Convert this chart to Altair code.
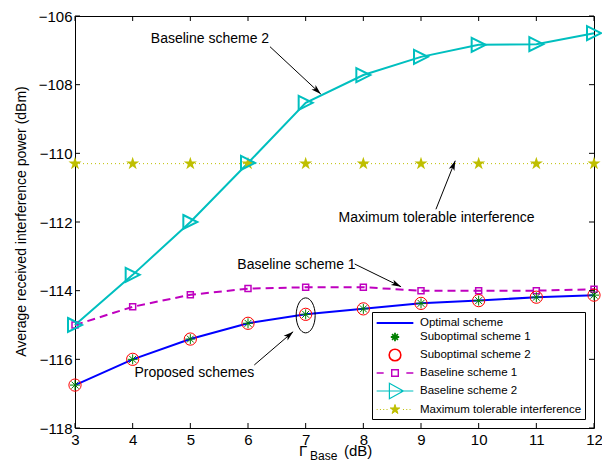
import math
import altair as alt
import pandas as pd

# ---------------- data ----------------
gamma_db = [3, 4, 5, 6, 7, 8, 9, 10, 11, 12]
optimal = [-116.75, -116.00, -115.41, -114.95, -114.69, -114.53, -114.37, -114.29, -114.19, -114.13]
suboptimal1 = [-116.75, -116.00, -115.41, -114.95, -114.69, -114.53, -114.37, -114.29, -114.19, -114.13]
suboptimal2 = [-116.75, -116.00, -115.41, -114.95, -114.69, -114.53, -114.37, -114.29, -114.19, -114.13]
baseline1 = [-115.00, -114.47, -114.12, -113.94, -113.90, -113.90, -114.00, -114.00, -114.00, -113.96]
baseline2 = [-115.00, -113.54, -112.00, -110.28, -108.53, -107.72, -107.19, -106.84, -106.82, -106.50]
max_tolerable = [-110.3, -110.3, -110.3, -110.3, -110.3, -110.3, -110.3, -110.3, -110.3, -110.3]

series_names = ["Optimal scheme", "Suboptimal scheme 1", "Suboptimal scheme 2",
                "Baseline scheme 1", "Baseline scheme 2", "Maximum tolerable interference"]
series_values = [optimal, suboptimal1, suboptimal2, baseline1, baseline2, max_tolerable]
series_colors = ["#0000FF", "#008000", "#FF0000", "#BF00BF", "#00BFBF", "#BFBF00"]

x_ticks = [3, 4, 5, 6, 7, 8, 9, 10, 11, 12]
y_ticks = [-118, -116, -114, -112, -110, -108, -106]

# annotations: text label centres and arrows (start -> tip), in data units
ann_text = ["Baseline scheme 2", "Maximum tolerable interference", "Baseline scheme 1", "Proposed schemes"]
ann_text_x = [5.34, 9.27, 6.84, 5.07]
ann_text_y = [-106.67, -111.89, -113.25, -116.41]
arrow_x0 = [6.381, 9.259, 7.849, 6.109]
arrow_y0 = [-106.894, -111.630, -113.223, -116.165]
arrow_x1 = [7.262, 9.594, 8.654, 6.783]
arrow_y1 = [-108.272, -110.215, -113.885, -115.195]
ellipse_x = [7]
ellipse_y = [-114.72]

# ---------------- layout ----------------
W, H = 519, 412
FONT = "Liberation Sans, Arial, Helvetica, sans-serif"

rows = []
for name, vals in zip(series_names, series_values):
    for g, v in zip(gamma_db, vals):
        rows.append({"series": name, "x": g, "y": v})
df = pd.DataFrame(rows)

xs = alt.Scale(domain=[3, 12], nice=False, zero=False)
ys = alt.Scale(domain=[-118, -106], nice=False, zero=False)
x_axis = alt.Axis(values=x_ticks, title=None, ticks=False, domain=False, grid=False,
                  labelPadding=4, labelFontSize=15, labelFlush=False, labelOverlap=False,
                  labelFont=FONT, labelColor="black")
y_axis = alt.Axis(values=y_ticks, title="Average received interference power (dBm)",
                  ticks=False, domain=False, grid=False, labelPadding=3, labelFontSize=15,
                  labelFlush=False, labelOverlap=False, labelFont=FONT, labelColor="black",
                  titleFont=FONT, titleFontSize=14, titleFontWeight="normal", titleColor="black",
                  titleX=-54, titleY=205, titleBaseline="middle")


def X(f="x"):
    return alt.X(f"{f}:Q", scale=xs, axis=x_axis)


def Y(f="y"):
    return alt.Y(f"{f}:Q", scale=ys, axis=y_axis)


def only(name):
    return alt.Chart(df).transform_filter(alt.datum.series == name)


# custom marker shapes
TRI_RIGHT = "M-1,-1L1,0L-1,1Z"
ASTERISK = "M-1,0H1M0,-1V1M-0.7,-0.7L0.7,0.7M-0.7,0.7L0.7,-0.7"
STAR = ("M0,-1L0.223,-0.307L0.951,-0.309L0.361,0.117L0.588,0.809L0,0.38"
        "L-0.588,0.809L-0.361,0.117L-0.951,-0.309L-0.223,-0.307Z")
ARROW_HEAD = "M0,0L0.55,1.8L0,1.35L-0.55,1.8Z"
ELLIPSE = "M0.543,0A0.543,1 0 1,1 -0.543,0A0.543,1 0 1,1 0.543,0Z"

# lines
line_opt = only("Optimal scheme").mark_line(color="#0000FF", strokeWidth=2).encode(x=X(), y=Y())
line_b1 = only("Baseline scheme 1").mark_line(color="#BF00BF", strokeWidth=2, strokeDash=[8, 5]).encode(x=X(), y=Y())
line_b2 = only("Baseline scheme 2").mark_line(color="#00BFBF", strokeWidth=2).encode(x=X(), y=Y())
line_mt = only("Maximum tolerable interference").mark_line(color="#BFBF00", strokeWidth=1, strokeDash=[1, 3]).encode(x=X(), y=Y())

# markers
pt_sub1 = only("Suboptimal scheme 1").mark_point(shape=ASTERISK, size=100, color="#008000", strokeWidth=1, opacity=1).encode(x=X(), y=Y())
pt_sub2 = only("Suboptimal scheme 2").mark_point(shape="circle", size=150, color="#FF0000", strokeWidth=1, opacity=1).encode(x=X(), y=Y())
pt_b1 = only("Baseline scheme 1").mark_point(shape="square", size=36, color="#BF00BF", strokeWidth=1.5, opacity=1).encode(x=X(), y=Y())
pt_b2 = only("Baseline scheme 2").mark_point(shape=TRI_RIGHT, size=196, color="#00BFBF", strokeWidth=2, opacity=1).encode(x=X(), y=Y())
pt_mt = only("Maximum tolerable interference").mark_point(shape=STAR, size=190, filled=True, color="#BFBF00", opacity=1).encode(x=X(), y=Y())

# annotations
ppx = W / 9.0
ppy = H / 12.0
angles = []
for a, b, c, d in zip(arrow_x0, arrow_y0, arrow_x1, arrow_y1):
    dx = (c - a) * ppx
    dy = -(d - b) * ppy
    angles.append(math.degrees(math.atan2(dx, -dy)) % 360)
arrows = pd.DataFrame({"x0": arrow_x0, "y0": arrow_y0, "x1": arrow_x1, "y1": arrow_y1, "ang": angles})
texts = pd.DataFrame({"x": ann_text_x, "y": ann_text_y, "t": ann_text})

arrow_lines = alt.Chart(arrows).mark_rule(color="black", strokeWidth=1).encode(
    x=X("x0"), y=Y("y0"), x2="x1:Q", y2="y1:Q")
arrow_heads = alt.Chart(arrows).mark_point(shape=ARROW_HEAD, size=121, filled=True, color="black", opacity=1).encode(
    x=X("x1"), y=Y("y1"), angle=alt.Angle("ang:Q", scale=None))
ann_labels = alt.Chart(texts).mark_text(font=FONT, fontSize=14, color="black", align="center", baseline="middle").encode(
    x=X(), y=Y(), text="t:N")
ellipse = alt.Chart(pd.DataFrame({"x": ellipse_x, "y": ellipse_y})).mark_point(
    shape=ELLIPSE, size=1225, color="black", strokeWidth=1, opacity=1).encode(x=X(), y=Y())

# inward ticks on all four sides
xt = pd.DataFrame({"x": x_ticks})
yt = pd.DataFrame({"y": y_ticks})
tick_b = alt.Chart(xt).mark_rule(color="black").encode(x=X(), y=alt.value(H), y2=alt.value(H - 5))
tick_t = alt.Chart(xt).mark_rule(color="black").encode(x=X(), y=alt.value(0), y2=alt.value(5))
tick_l = alt.Chart(yt).mark_rule(color="black").encode(y=Y(), x=alt.value(0), x2=alt.value(5))
tick_r = alt.Chart(yt).mark_rule(color="black").encode(y=Y(), x=alt.value(W), x2=alt.value(W - 5))

# x-axis title with subscript
one = pd.DataFrame({"a": [0]})
xt_gamma = alt.Chart(one).mark_text(text="Γ", font=FONT, fontSize=15, color="black", align="left", baseline="middle").encode(
    x=alt.value(224), y=alt.value(435))
xt_base = alt.Chart(one).mark_text(text="Base", font=FONT, fontSize=12, color="black", align="left", baseline="middle").encode(
    x=alt.value(235), y=alt.value(440))
xt_db = alt.Chart(one).mark_text(text="(dB)", font=FONT, fontSize=15, color="black", align="left", baseline="middle").encode(
    x=alt.value(269), y=alt.value(435))

# legend (symbols combine line style and marker)
def dots(lo, hi, skip):
    parts = []
    v = lo
    while v <= hi + 1e-9:
        if abs(v) > skip:
            parts.append(f"M{v:.2f},0H{v + 0.14:.2f}")
        v += 0.47
    return "".join(parts)

legend_paths = [
    "M-2.62,0H2.62",
    "M-0.6,0H0.6M0,-0.6V0.6M-0.42,-0.42L0.42,0.42M-0.42,0.42L0.42,-0.42",
    "M0.83,0A0.83,0.83 0 1,1 -0.83,0A0.83,0.83 0 1,1 0.83,0Z",
    "M-2.62,0H-1.62M1.62,0H2.62M-0.47,-0.47H0.47V0.47H-0.47Z",
    "M-2.62,0H2.62M-0.8,-1.1L1.2,0L-0.8,1.1Z",
    dots(-2.62, 2.5, 0.8) + "M0,-0.71L0.158,-0.218L0.675,-0.219L0.256,0.083L0.417,0.574L0,0.27"
    "L-0.417,0.574L-0.256,0.083L-0.675,-0.219L-0.158,-0.218Z",
]
legend_fill = ["transparent", "transparent", "transparent", "transparent", "transparent", "#BFBF00"]
legend_sw = [2, 1, 1, 1.5, 2, 1]
leg = alt.Legend(title=None)
legend_layer = alt.Chart(df).transform_filter("datum.x < 0").mark_point(size=196, filled=True, opacity=1).encode(
    x=X(), y=Y(),
    shape=alt.Shape("series:N", scale=alt.Scale(domain=series_names, range=legend_paths), legend=leg),
    stroke=alt.Stroke("series:N", scale=alt.Scale(domain=series_names, range=series_colors), legend=leg),
    fill=alt.Fill("series:N", scale=alt.Scale(domain=series_names, range=legend_fill), legend=leg),
    strokeWidth=alt.StrokeWidth("series:N", scale=alt.Scale(domain=series_names, range=legend_sw), legend=leg),
)

chart = alt.layer(
    line_mt, line_b1, line_b2, line_opt,
    pt_mt, pt_b1, pt_b2, pt_sub1, pt_sub2,
    ellipse, arrow_lines, arrow_heads, ann_labels,
    tick_b, tick_t, tick_l, tick_r,
    xt_gamma, xt_base, xt_db,
    legend_layer,
).properties(
    width=W, height=H,
    autosize=alt.AutoSizeParams(type="none"),
    padding={"left": 67, "top": 8, "right": 8, "bottom": 35},
).configure_view(
    stroke="black", strokeWidth=1
).configure_legend(
    orient="none", legendX=297, legendY=296, padding=3,
    fillColor="white", strokeColor="black",
    symbolOffset=12, labelOffset=17, rowPadding=0,
    labelFont=FONT, labelFontSize=11.5, labelColor="black", labelLimit=400,
    symbolSize=196,
)

chart.save("out.html", embed_options={"renderer": "svg", "actions": False})
